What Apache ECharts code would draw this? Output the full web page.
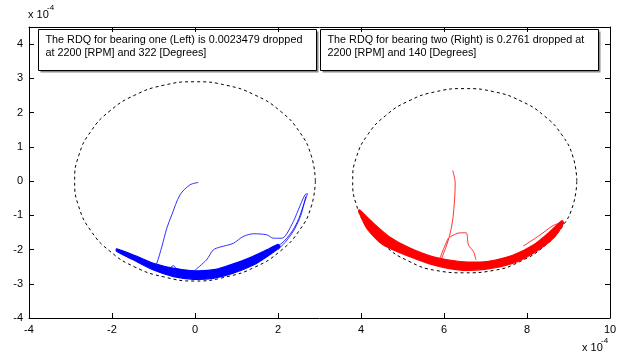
<!DOCTYPE html>
<html><head><meta charset="utf-8">
<script src="https://cdn.jsdelivr.net/npm/echarts@6/dist/echarts.min.js"></script>
<style>html,body{margin:0;padding:0;background:#fff}#c{width:625px;height:356px}</style>
</head><body><div id="c"></div>
<script>
// ---- data (units of 1e-4) ----
const xTicks = [-4, -2, 0, 2, 4, 6, 8, 10];
const yTicks = [-4, -3, -2, -1, 0, 1, 2, 3, 4];
const note1 = ['The RDQ for bearing one (Left) is 0.0023479 dropped', 'at 2200 [RPM] and 322 [Degrees]'];
const note2 = ['The RDQ for bearing two (Right) is 0.2761 dropped at', '2200 [RPM] and 140 [Degrees]'];

const leftCircle = [[2.9,0],[2.8,0.75],[2.51,1.45],[2.05,2.05],[1.45,2.51],[0.75,2.8],[0,2.9],[-0.75,2.8],[-1.45,2.51],[-2.05,2.05],[-2.51,1.45],[-2.8,0.75],[-2.9,0],[-2.8,-0.75],[-2.51,-1.45],[-2.05,-2.05],[-1.45,-2.51],[-0.75,-2.8],[0,-2.92],[0.75,-2.8],[1.45,-2.51],[2.05,-2.05],[2.51,-1.45],[2.8,-0.75],[2.9,0]];
const rightCircle = [[9.2,0],[9.11,0.7],[8.84,1.35],[8.41,1.91],[7.85,2.34],[7.2,2.61],[6.5,2.7],[5.8,2.61],[5.15,2.34],[4.59,1.91],[4.16,1.35],[3.89,0.7],[3.8,0],[3.89,-0.7],[4.16,-1.35],[4.59,-1.91],[5.15,-2.34],[5.8,-2.61],[6.5,-2.68],[7.2,-2.61],[7.85,-2.34],[8.41,-1.91],[8.84,-1.35],[9.11,-0.7],[9.2,0]];

const blueBandUpper = [[-1.89,-1.98],[-1.4,-2.2],[-1.0,-2.40],[-0.5,-2.55],[0,-2.62],[0.5,-2.58],[0.92,-2.42],[1.3,-2.25],[1.73,-2.01],[2.0,-1.85]];
const blueBandLower = [[-1.89,-2.05],[-1.49,-2.30],[-1.0,-2.60],[-0.52,-2.79],[-0.04,-2.87],[0.44,-2.84],[0.92,-2.69],[1.41,-2.45],[1.73,-2.21],[2.05,-1.92]];
const blueTrace1 = [[0.08,-0.04],[-0.12,-0.11],[-0.36,-0.40],[-0.56,-0.99],[-0.68,-1.38],[-0.80,-1.92],[-0.92,-2.40],[-0.99,-2.55]];
const blueTrace2 = [[0,-2.60],[0.28,-2.30],[0.44,-2.01],[0.60,-1.93],[0.92,-1.82],[1.16,-1.62],[1.41,-1.54],[1.73,-1.57],[1.89,-1.67],[2.09,-1.67],[2.33,-1.28],[2.49,-0.84],[2.65,-0.40],[2.71,-0.37]];
const blueTrace3 = [[2.71,-0.37],[2.6,-0.75],[2.5,-1.1],[2.35,-1.45],[2.15,-1.75],[1.95,-1.95]];
const blueTrace4 = [[2.67,-0.45],[2.55,-1.0],[2.4,-1.4],[2.2,-1.75],[2.0,-2.0]];
const blueTrace5 = [[-0.65,-2.6],[-0.52,-2.47],[-0.45,-2.55],[-0.3,-2.6]];

const redBandUpper = [[3.96,-0.84],[4.30,-1.23],[4.70,-1.64],[5.18,-1.96],[5.74,-2.21],[6.39,-2.35],[7.03,-2.35],[7.67,-2.16],[8.15,-1.87],[8.55,-1.48],[8.84,-1.16]];
const redBandLower = [[3.94,-0.87],[4.14,-1.38],[4.54,-1.87],[5.18,-2.21],[5.74,-2.45],[6.39,-2.60],[7.03,-2.57],[7.67,-2.40],[8.15,-2.11],[8.63,-1.67],[8.88,-1.23]];
const redTrace1 = [[6.21,0.31],[6.27,-0.06],[6.22,-1.04],[6.14,-1.57],[6.05,-1.92],[5.94,-2.26]];
const redTrace2 = [[6.14,-1.64],[6.34,-1.52],[6.53,-1.51],[6.59,-1.87],[6.71,-2.06],[6.77,-2.30]];
const redTrace3 = [[6.10,-1.67],[5.98,-2.01],[5.90,-2.26]];
const redTrace4 = [[7.91,-1.90],[8.31,-1.58],[8.63,-1.30],[8.86,-1.20]];

// ---- chart ----
const FONT = "'Liberation Sans', Arial, sans-serif";
const chart = echarts.init(document.getElementById('c'), null, {renderer: 'canvas'});

function band(upper, lower, color) {
  return {
    type: 'custom', coordinateSystem: 'cartesian2d', silent: true, z: 3,
    data: [[upper[0][0], upper[0][1]]],
    renderItem: function (params, api) {
      const pts = upper.concat(lower.slice().reverse()).map(p => api.coord(p));
      return {type: 'polygon', shape: {points: pts, smooth: 0.25},
        style: {fill: color, stroke: color, lineWidth: 1.2}};
    }
  };
}
function trace(data, color, width, opacity) {
  return {type: 'line', data: data, smooth: 0.3, showSymbol: false, symbol: 'none', silent: true, z: 4,
    lineStyle: {color: color, width: width || 1, opacity: opacity || 0.8}};
}
function dashed(data) {
  return {type: 'line', data: data, smooth: true, showSymbol: false, symbol: 'none', silent: true, z: 2,
    lineStyle: {color: '#000', width: 1, type: [3, 3]}};
}

const axisCommon = {
  axisLine: {show: true, onZero: false, lineStyle: {color: '#000', width: 1}},
  axisTick: {show: true, inside: true, length: 5, lineStyle: {color: '#000'}},
  splitLine: {show: false},
};

function noteGroup(x, lines) {
  return {type: 'group', left: x, top: 29, children: [
    {type: 'rect', shape: {x: 2, y: 2, width: 278, height: 41}, style: {fill: '#8a8a8a'}},
    {type: 'rect', shape: {x: 0, y: 0, width: 278, height: 41}, style: {fill: '#fff', stroke: '#000', lineWidth: 1}},
    {type: 'text', x: 7, y: 5, style: {text: lines[0], font: '10.8px ' + FONT, fill: '#000'}},
    {type: 'text', x: 7, y: 18, style: {text: lines[1], font: '10.8px ' + FONT, fill: '#000'}}
  ]};
}

chart.setOption({
  animation: false,
  backgroundColor: '#fff',
  grid: {left: 29, right: 15, top: 27, bottom: 38, containLabel: false, show: false},
  xAxis: [
    Object.assign({type: 'value', min: xTicks[0], max: xTicks[xTicks.length - 1], interval: 2, position: 'bottom',
      axisLabel: {color: '#000', fontSize: 11, fontFamily: FONT, margin: 6}}, axisCommon),
    Object.assign({type: 'value', min: xTicks[0], max: xTicks[xTicks.length - 1], interval: 2, position: 'top',
      axisLabel: {show: false}}, axisCommon)
  ],
  yAxis: [
    Object.assign({type: 'value', min: yTicks[0], max: 4.5, interval: 1, position: 'left',
      axisLabel: {color: '#000', fontSize: 11, fontFamily: FONT, margin: 6,
        formatter: v => (Number.isInteger(v) ? String(v) : '')}}, axisCommon),
    Object.assign({type: 'value', min: yTicks[0], max: 4.5, interval: 1, position: 'right',
      axisLabel: {show: false}}, axisCommon)
  ],
  series: [
    dashed(leftCircle), dashed(rightCircle),
    band(blueBandUpper, blueBandLower, '#0000ff'),
    band(redBandUpper, redBandLower, '#ff0000'),
    trace(blueTrace1, '#0000ff'), trace(blueTrace2, '#0000ff'), trace(blueTrace3, '#0000ff'),
    trace(blueTrace4, '#0000ff'), trace(blueTrace5, '#0000ff'),
    trace(redTrace1, '#ff0000'), trace(redTrace2, '#ff0000'), trace(redTrace3, '#ff0000'), trace(redTrace4, '#ff0000')
  ],
  graphic: [
    noteGroup(38, note1), noteGroup(320, note2),
    {type: 'text', left: 28, top: 9, style: {text: 'x 10', font: '11px ' + FONT, fill: '#000'}},
    {type: 'text', left: 47, top: 4, style: {text: '-4', font: '8px ' + FONT, fill: '#000'}},
    {type: 'text', left: 582, top: 342, style: {text: 'x 10', font: '11px ' + FONT, fill: '#000'}},
    {type: 'text', left: 601, top: 337, style: {text: '-4', font: '8px ' + FONT, fill: '#000'}}
  ]
});
</script></body></html>
